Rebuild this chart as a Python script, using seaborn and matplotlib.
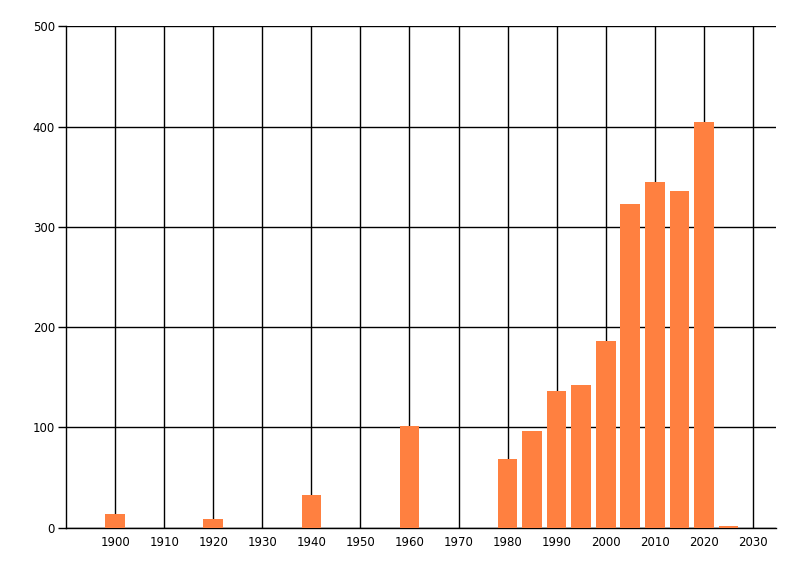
import pandas as pd
import matplotlib.pyplot as plt
import seaborn as sns

# values
years = [1900, 1920, 1940, 1960, 1980, 1985, 1990, 1995, 2000, 2005, 2010, 2015, 2020, 2025]
counts = [13, 8, 32, 101, 68, 96, 136, 142, 186, 323, 345, 336, 405, 1]
x_ticks = list(range(1900, 2031, 10))
y_ticks = [0, 100, 200, 300, 400, 500]

df = pd.DataFrame({'year': years, 'count': counts})

sns.set_style('white')
plt.rcParams['font.family'] = ['DejaVu Sans']

fig = plt.figure(figsize=(8, 5.76), dpi=100)
ax = fig.add_axes([0.0825, 0.0842, 0.8875, 0.8698])

sns.barplot(data=df, x='year', y='count', native_scale=True, width=0.8,
            color='#FF8040', saturation=1, linewidth=0, ax=ax, zorder=3)

ax.set_xlim(1890, 2034.7)
ax.set_ylim(0, 500)
ax.set_xticks(x_ticks)
ax.set_yticks(y_ticks)
ax.set_xticklabels([str(t) for t in x_ticks])
ax.set_xlabel('')
ax.set_ylabel('')

ax.grid(True, color='black', linewidth=1)
ax.set_axisbelow(True)
for side in ['top', 'right']:
    ax.spines[side].set_visible(False)
for side in ['left', 'bottom']:
    ax.spines[side].set_color('black')
    ax.spines[side].set_linewidth(1)

ax.tick_params(axis='y', left=True, length=6, width=1, color='black',
               labelcolor='black', labelsize=8.5, pad=2)
ax.tick_params(axis='x', bottom=False, length=0, labelcolor='black',
               labelsize=8.5, pad=6)

fig.savefig('out.png', dpi=100)
